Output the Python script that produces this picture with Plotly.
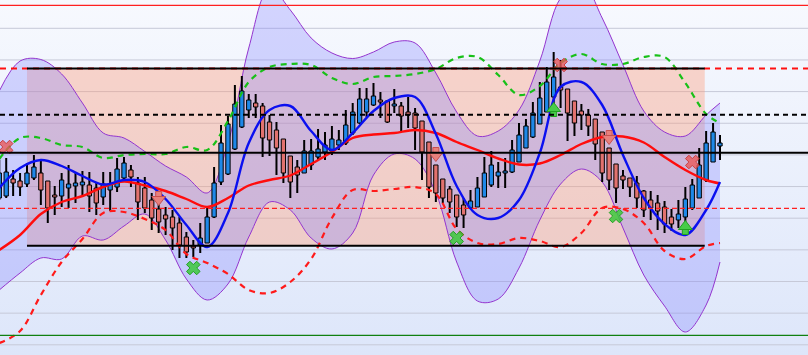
import numpy as np
import plotly.graph_objects as go

# ---------------- data ----------------
bars = list(range(105))
open_ = [115.7,115.9,117.6,117.4,117.1,117.7,118.2,117.4,116.0,115.9,
         116.7,116.9,117.0,117.0,116.7,115.8,116.5,116.8,117.7,118.5,
         117.2,116.7,115.5,114.6,114.0,113.8,113.2,111.8,110.9,111.0,
         111.2,113.8,117.3,118.1,120.6,122.8,124.5,125.2,124.9,123.3,
         122.5,121.6,119.9,118.8,118.2,119.0,119.8,120.3,120.4,121.0,
         121.2,122.2,123.2,124.3,125.0,125.5,125.4,124.9,124.9,124.3,
         124.2,123.4,121.3,119.0,117.6,116.6,116.0,115.0,114.7,114.8,
         115.8,117.0,117.9,118.2,118.3,119.3,120.7,121.8,123.1,124.3,
         125.8,126.8,126.6,125.4,124.4,124.0,123.6,122.3,120.7,119.1,
         117.9,117.7,117.2,116.4,115.5,115.2,114.8,113.8,113.5,113.8,
         114.7,115.7,117.5,119.3,120.9]
high = [119.5,119.7,118.5,118.2,119.2,120.0,119.5,117.4,116.9,118.2,
        119.0,118.2,118.4,118.3,117.2,118.3,118.3,119.7,119.8,119.0,
        117.8,117.8,116.2,115.2,114.8,114.5,113.8,112.3,111.5,113.2,
        114.8,118.8,123.0,123.9,127.0,127.9,126.1,126.1,125.2,124.0,
        123.3,121.6,119.9,119.5,121.5,121.6,122.6,122.3,122.9,122.5,
        124.5,125.2,126.7,126.7,127.2,126.3,125.5,126.6,125.3,125.8,
        124.7,123.4,121.3,119.0,117.6,116.9,116.0,115.7,116.5,117.8,
        119.8,120.4,119.3,119.7,121.5,123.2,123.6,125.3,127.3,128.8,
        130.3,129.5,126.6,125.4,125.1,124.6,123.6,122.3,120.7,119.1,
        118.5,117.7,117.9,116.5,116.4,116.0,115.4,114.6,115.5,116.8,
        117.6,120.7,122.4,123.2,122.0]
low = [115.5,115.7,115.9,115.9,116.8,117.5,115.0,113.2,114.0,114.8,
       114.7,115.2,115.8,114.3,114.0,115.0,114.4,116.3,117.5,116.8,
       113.5,114.2,112.5,112.2,112.0,110.5,109.7,109.7,109.8,110.2,
       111.2,113.7,117.0,118.0,120.5,122.7,123.7,123.7,119.8,119.9,
       118.0,117.2,115.7,116.2,118.2,118.5,119.5,119.5,120.0,120.5,
       121.0,122.0,123.1,123.8,124.9,123.7,123.2,124.2,122.4,122.7,
       120.5,117.5,115.7,115.3,115.2,114.2,112.8,112.7,114.6,114.8,
       115.8,116.8,116.7,116.7,118.2,119.3,120.7,121.7,123.1,124.3,
       124.0,124.7,121.4,121.9,122.5,121.9,119.5,117.3,116.5,115.2,
       116.6,115.8,114.7,113.8,113.5,112.5,112.2,112.4,112.7,112.7,
       114.5,115.7,117.3,119.3,119.5]
close = [118.2,118.3,117.2,116.8,118.2,118.8,116.5,114.7,115.8,117.5,
         117.1,117.2,117.3,115.9,115.2,117.1,117.1,118.6,119.2,117.8,
         115.3,114.7,113.7,113.3,113.6,112.7,111.0,110.3,110.7,111.7,
         113.8,117.2,121.2,123.1,125.1,126.4,125.5,124.8,121.7,121.5,
         120.7,118.2,117.3,118.0,120.4,120.4,120.6,121.0,121.6,121.5,
         123.0,124.3,125.6,125.6,125.9,125.3,123.3,125.1,123.9,124.0,
         122.7,120.3,116.8,116.2,115.7,115.3,113.8,114.0,115.4,116.7,
         118.2,119.0,118.3,118.4,120.5,122.0,122.9,124.2,125.7,127.3,
         127.8,126.5,124.2,123.2,124.0,122.9,121.1,118.2,117.5,116.7,
         117.5,116.8,115.7,114.5,114.7,114.4,113.1,113.1,114.1,115.6,
         117.0,119.0,121.2,122.3,121.2]

# indicator lines, read every 3rd bar
ind_x = list(range(0, 103, 3)) + [104]
fast_ma = [116.7,118.7,119.5,118.9,117.9,117.05,117.5,117.3,115.6,113.0,110.8,114.2,
           121.2,124.5,124.9,122.4,120.5,122.2,124.4,125.7,125.8,122.1,116.9,114.0,
           113.7,115.5,120.2,126.8,127.3,125.0,120.0,115.7,113.1,112.0,114.5,117.3]
slow_ma = [110.5,112.0,114.1,115.3,115.9,116.8,117.35,116.95,116.4,115.6,114.8,115.7,
           116.95,117.5,117.95,119.1,120.3,121.7,122.05,122.2,122.5,122.2,121.3,120.5,
           119.65,119.05,119.15,120.0,121.1,121.8,121.85,121.25,119.8,118.5,117.5,117.15]
band_up = [126.4,129.4,129.55,128.1,125.2,122.2,121.7,120.35,118.9,117.8,116.2,121.2,
           130.7,136.7,134.5,131.7,130.2,129.65,130.3,131.3,131.2,128.2,124.3,121.9,
           122.4,124.5,129.4,135.7,137.3,133.7,129.0,124.4,122.3,121.9,124.0,125.2]
band_lo = [106.5,108.2,109.7,109.6,111.9,111.5,112.9,114.1,111.5,107.6,105.5,107.1,
           111.8,115.3,114.5,111.7,110.6,112.2,118.0,120.1,119.6,116.2,109.3,105.4,
           105.6,108.7,113.5,117.1,118.6,117.3,112.7,108.0,104.9,102.3,105.0,109.3]
env_up = [119.6,121.7,121.7,121.0,120.8,119.7,120.0,120.1,120.1,120.8,120.5,123.4,
          127.3,128.8,129.1,129.0,127.7,127.1,127.8,127.9,128.1,128.6,129.7,129.8,
          128.0,126.0,126.9,129.2,130.1,129.1,129.1,129.8,129.8,127.2,124.1,123.2]
env_lo = [101.2,102.4,106.0,109.3,111.6,114.2,114.3,113.6,112.5,110.1,109.2,108.1,
          106.5,106.2,107.3,109.6,113.7,116.5,116.4,116.6,116.8,116.1,112.6,111.2,
          111.1,111.7,111.4,110.8,112.2,114.7,114.6,113.2,110.4,109.6,110.9,111.2]

# signals
sell_x, sell_y = [1, 81, 100], [120.8, 129.0, 119.3]
down_x, down_y = [23, 63, 88], [115.7, 120.1, 121.8]
buy_x, buy_y = [28, 66, 89], [108.7, 111.7, 113.9]
up_x, up_y = [80, 99], [124.5, 112.7]

# levels
box_start, box_end = 4, 101.8
resistance = 128.65
support = 110.93
pivot = 120.23
mid_level = 124.03
lower_level = 114.67
max_level = 134.97
min_level = 101.97
grid_levels = [101.02 + 3.165 * k for k in range(11)]

X_RANGE = [0.105, 116.7]
Y_RANGE = [100.0, 135.5]
BODY_HALF = 0.31   # half body width, in bars
PX_Y = (Y_RANGE[1] - Y_RANGE[0]) / 355.0   # price per pixel (for marker offsets)

# ---------------- figure ----------------
fig = go.Figure()

# background gradient
fig.add_trace(go.Scatter(
    x=[X_RANGE[0], X_RANGE[1], X_RANGE[1], X_RANGE[0], X_RANGE[0]],
    y=[Y_RANGE[0], Y_RANGE[0], Y_RANGE[1], Y_RANGE[1], Y_RANGE[0]],
    fill='toself', mode='none', hoverinfo='skip',
    fillgradient=dict(type='vertical', start=Y_RANGE[0], stop=Y_RANGE[1],
                      colorscale=[[0, '#dde6fa'], [1, '#f7f9fe']])))

# grid lines
gx, gy = [], []
for g in grid_levels:
    gx += [X_RANGE[0], X_RANGE[1], None]
    gy += [g, g, None]
fig.add_trace(go.Scatter(x=gx, y=gy, mode='lines', hoverinfo='skip',
                         line=dict(color='#c6c9d8', width=1)))

# range box
fig.add_trace(go.Scatter(
    x=[box_start, box_end, box_end, box_start, box_start],
    y=[support, support, resistance, resistance, support],
    fill='toself', mode='none', hoverinfo='skip',
    fillcolor='rgba(255,150,110,0.36)'))

# bands
fig.add_trace(go.Scatter(x=ind_x, y=band_lo, mode='lines', line=dict(color='#9435cf', width=1, shape='spline'),
                         hoverinfo='skip'))
fig.add_trace(go.Scatter(x=ind_x, y=band_up, mode='lines', line=dict(color='#9435cf', width=1, shape='spline'),
                         fill='tonexty', fillcolor='rgba(125,125,255,0.30)', hoverinfo='skip'))

# candles: wicks
wx, wy = [], []
for i, h, l in zip(bars, high, low):
    wx += [i, i, None]
    wy += [l, h, None]
fig.add_trace(go.Scatter(x=wx, y=wy, mode='lines', line=dict(color='black', width=2), hoverinfo='skip'))

# candles: bodies
for up, col in ((True, '#1e88e8'), (False, '#e2726e')):
    bx, by = [], []
    for i, o, c in zip(bars, open_, close):
        if (c >= o) != up:
            continue
        bx += [i - BODY_HALF, i + BODY_HALF, i + BODY_HALF, i - BODY_HALF, i - BODY_HALF, None]
        by += [o, o, c, c, o, None]
    fig.add_trace(go.Scatter(x=bx, y=by, mode='lines', fill='toself', fillcolor=col,
                             line=dict(color='black', width=1), hoverinfo='skip'))

# envelope lines
fig.add_trace(go.Scatter(x=ind_x, y=env_up, mode='lines',
                         line=dict(color='#18c018', width=2.2, dash='6px,5px', shape='spline')))
fig.add_trace(go.Scatter(x=ind_x, y=env_lo, mode='lines',
                         line=dict(color='#ff1a1a', width=2.2, dash='6px,5px', shape='spline')))

# moving averages
fig.add_trace(go.Scatter(x=ind_x, y=slow_ma, mode='lines', line=dict(color='#ff0d0d', width=2.4, shape='spline')))
fig.add_trace(go.Scatter(x=ind_x, y=fast_ma, mode='lines', line=dict(color='#0b10f0', width=2.4, shape='spline')))

# signals: crosses
fig.add_trace(go.Scatter(x=sell_x, y=sell_y, mode='markers',
                         marker=dict(symbol='x', size=12, color='rgba(232,90,90,0.8)',
                                     line=dict(color='#c84040', width=1))))
fig.add_trace(go.Scatter(x=buy_x, y=buy_y, mode='markers',
                         marker=dict(symbol='x', size=12, color='rgba(60,200,60,0.85)',
                                     line=dict(color='#22a022', width=1))))

# signals: block arrows (stem + head)
RED_A, RED_L = '#e8807c', '#c85050'
GRN_A, GRN_L = '#48cc48', '#22a022'
fig.add_trace(go.Scatter(x=down_x, y=[v + 3.5 * PX_Y for v in down_y], mode='markers',
                         marker=dict(symbol='square', size=6, color=RED_A, line=dict(color=RED_L, width=1))))
fig.add_trace(go.Scatter(x=down_x, y=[v - 1.5 * PX_Y for v in down_y], mode='markers',
                         marker=dict(symbol='triangle-down', size=12, color=RED_A, line=dict(color=RED_L, width=1))))
fig.add_trace(go.Scatter(x=up_x, y=[v - 3.5 * PX_Y for v in up_y], mode='markers',
                         marker=dict(symbol='square', size=6, color=GRN_A, line=dict(color=GRN_L, width=1))))
fig.add_trace(go.Scatter(x=up_x, y=[v + 1.5 * PX_Y for v in up_y], mode='markers',
                         marker=dict(symbol='triangle-up', size=12, color=GRN_A, line=dict(color=GRN_L, width=1))))

# level lines
def hline(y, color, width, dash='solid', x0=None, x1=None):
    if x0 is None:
        fig.add_shape(type='line', xref='paper', x0=0, x1=1, y0=y, y1=y, layer='above',
                      line=dict(color=color, width=width, dash=dash))
    else:
        fig.add_shape(type='line', x0=x0, x1=x1, y0=y, y1=y, layer='above',
                      line=dict(color=color, width=width, dash=dash))

hline(max_level, '#ff2020', 1.2)
hline(min_level, '#108010', 1.2)
hline(resistance, '#ff1010', 2, '6px,5px')
hline(resistance, 'black', 2, x0=box_start, x1=box_end)
hline(support, 'black', 2, x0=box_start, x1=box_end)
hline(pivot, 'black', 2)
hline(mid_level, 'black', 2, '5px,4px')
hline(lower_level, '#ff2020', 1.2, '5px,3px')

fig.update_layout(
    width=808, height=355, margin=dict(l=0, r=0, t=0, b=0),
    paper_bgcolor='#f0f3fd', plot_bgcolor='rgba(0,0,0,0)',
    showlegend=False, hovermode=False,
    xaxis=dict(range=X_RANGE, showgrid=False, zeroline=False, showticklabels=False, fixedrange=True),
    yaxis=dict(range=Y_RANGE, showgrid=False, zeroline=False, showticklabels=False, fixedrange=True),
)

fig.write_html("out.html", config={'displayModeBar': False})
